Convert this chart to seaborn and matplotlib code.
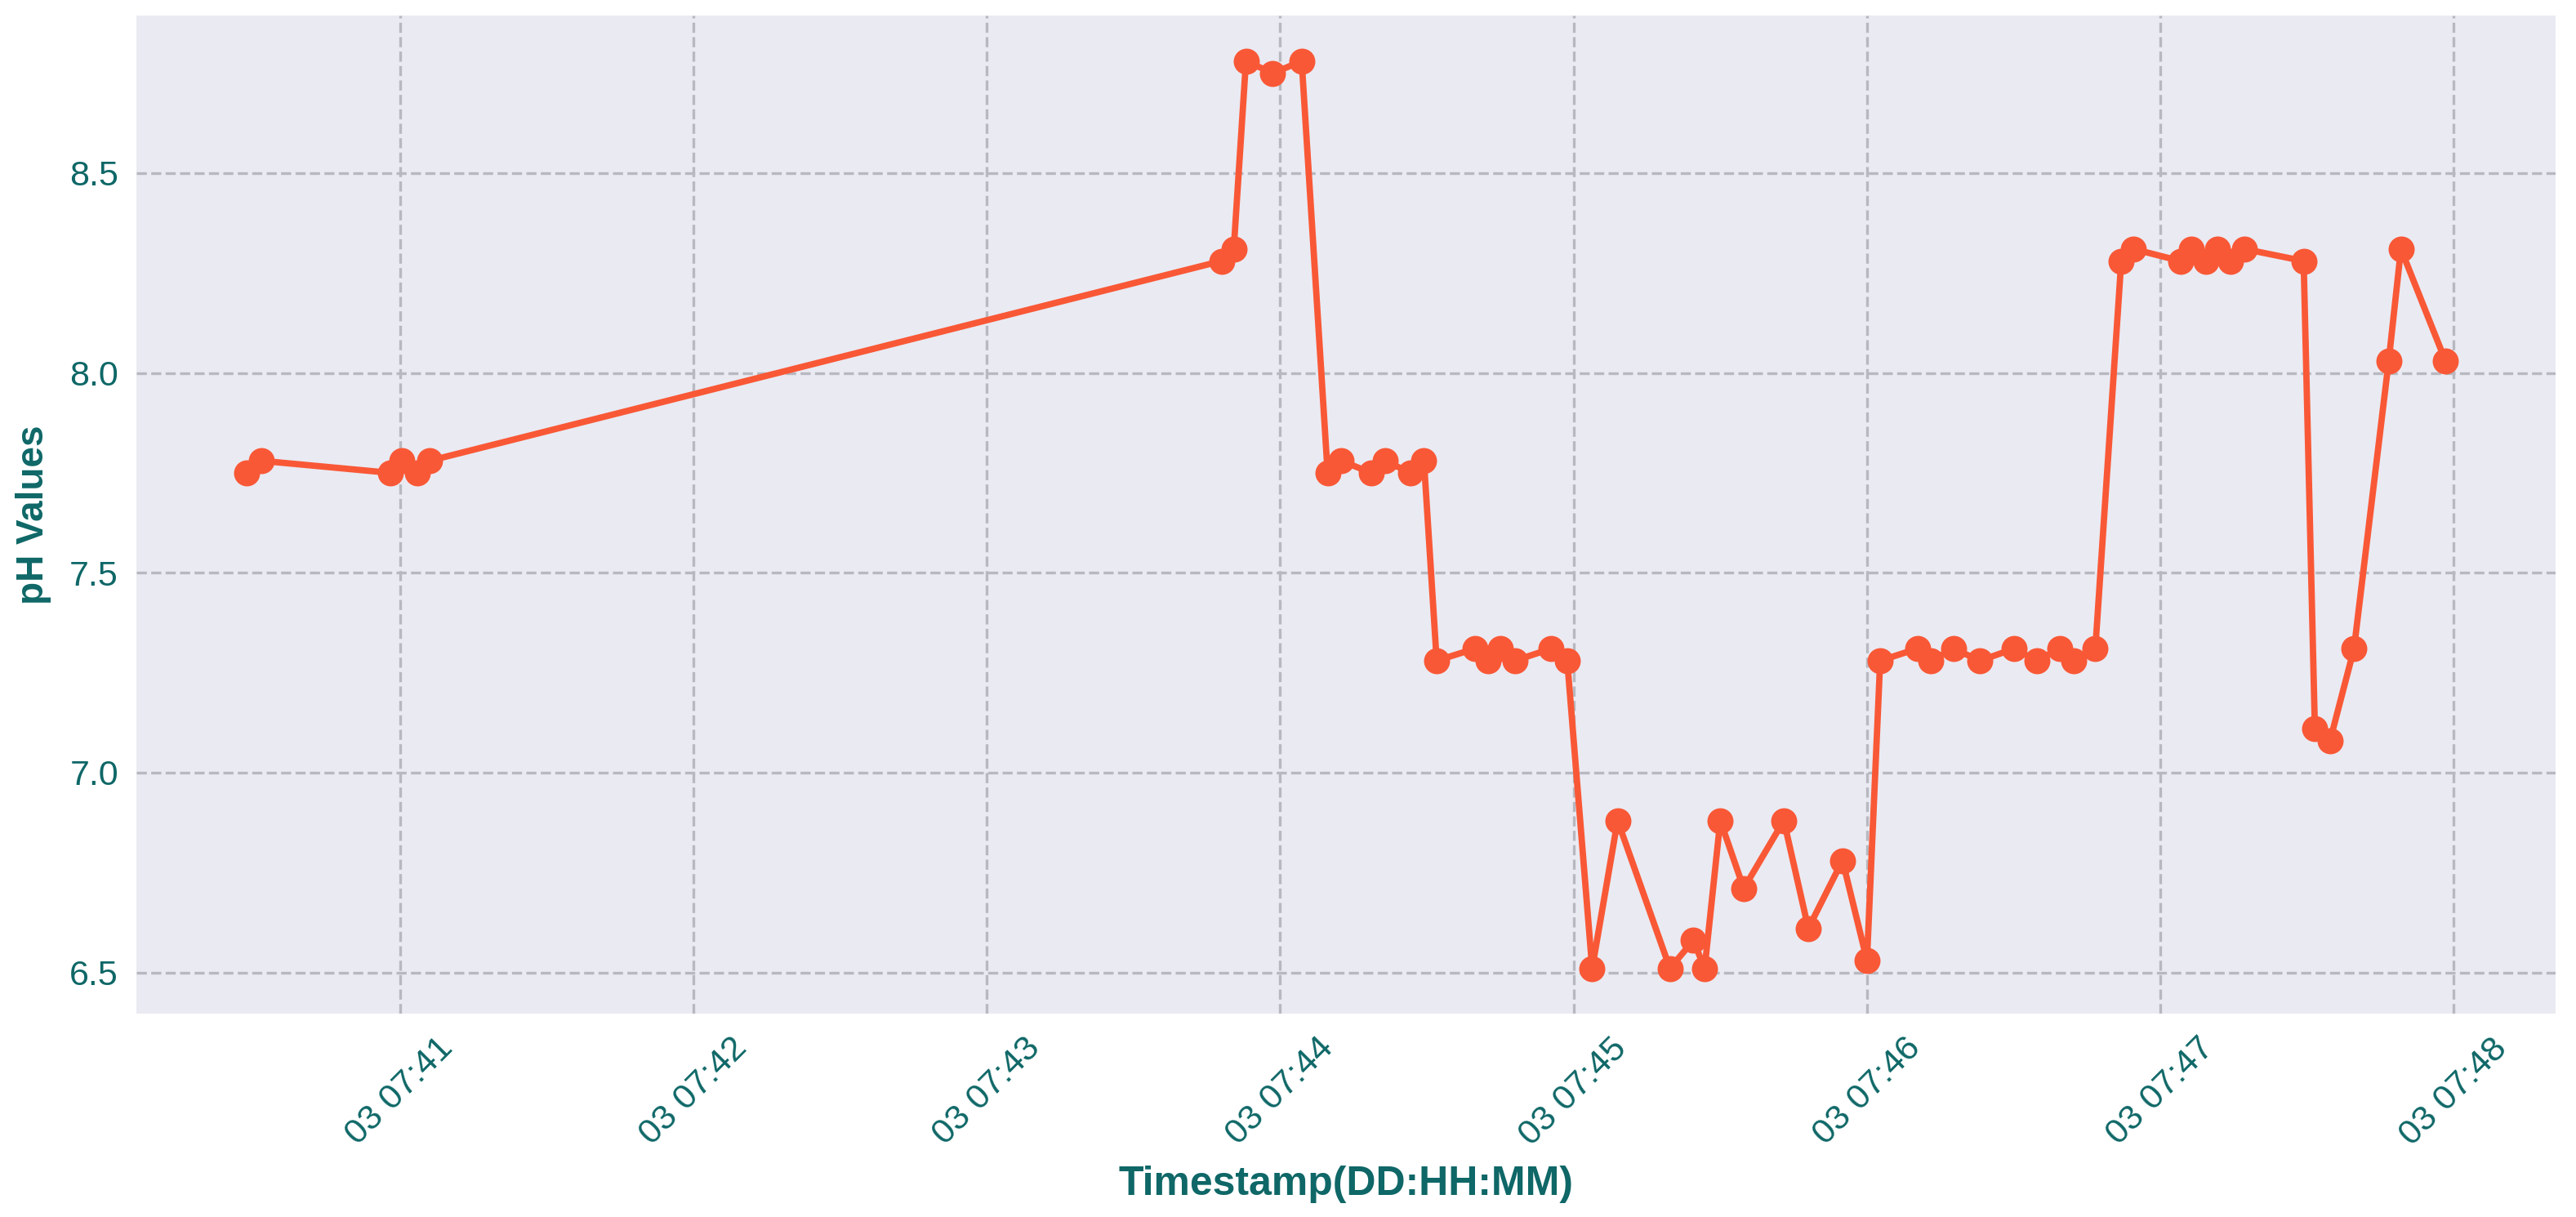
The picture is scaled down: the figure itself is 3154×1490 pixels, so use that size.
import matplotlib
matplotlib.use("Agg")
import matplotlib.pyplot as plt
import matplotlib.dates as mdates
import seaborn as sns
import pandas as pd

# ---- data ----
timestamps = [
    "07:40:28.6", "07:40:31.7", "07:40:58.0", "07:41:00.3", "07:41:03.5", "07:41:06.0",
    "07:43:48.0", "07:43:50.5", "07:43:53.0", "07:43:58.5", "07:44:04.4",
    "07:44:09.7", "07:44:12.5", "07:44:18.6", "07:44:21.4", "07:44:26.7", "07:44:29.4",
    "07:44:32.0", "07:44:39.8", "07:44:42.6", "07:44:45.0", "07:44:48.0", "07:44:55.4", "07:44:58.7",
    "07:45:03.8", "07:45:09.0", "07:45:19.7", "07:45:24.5", "07:45:26.8", "07:45:30.0",
    "07:45:34.8", "07:45:43.0", "07:45:48.0", "07:45:55.0", "07:46:00.0",
    "07:46:02.7", "07:46:10.3", "07:46:13.0", "07:46:17.7", "07:46:23.1", "07:46:30.1",
    "07:46:34.7", "07:46:39.4", "07:46:42.2", "07:46:46.7",
    "07:46:52.0", "07:46:54.5", "07:47:04.1", "07:47:06.3", "07:47:09.4", "07:47:11.6",
    "07:47:14.4", "07:47:17.2", "07:47:29.3", "07:47:31.6", "07:47:34.7", "07:47:39.6",
    "07:47:46.7", "07:47:49.2", "07:47:58.3",
]
ph_values = [
    7.75, 7.78, 7.75, 7.78, 7.75, 7.78,
    8.28, 8.31, 8.78, 8.75, 8.78,
    7.75, 7.78, 7.75, 7.78, 7.75, 7.78,
    7.28, 7.31, 7.28, 7.31, 7.28, 7.31, 7.28,
    6.51, 6.88, 6.51, 6.58, 6.51, 6.88,
    6.71, 6.88, 6.61, 6.78, 6.53,
    7.28, 7.31, 7.28, 7.31, 7.28, 7.31,
    7.28, 7.31, 7.28, 7.31,
    8.28, 8.31, 8.28, 8.31, 8.28, 8.31,
    8.28, 8.31, 8.28, 7.11, 7.08, 7.31,
    8.03, 8.31, 8.03,
]
date_prefix = "2023-07-03 "

df = pd.DataFrame({
    "Timestamp": pd.to_datetime([date_prefix + t for t in timestamps]),
    "pH": ph_values,
})

# ---- style ----
sns.set_theme(style="darkgrid")
plt.rcParams["font.family"] = ["Liberation Sans", "DejaVu Sans"]

text_color = "#0f6767"
line_color = "#F95836"

fig = plt.figure(figsize=(15.77, 7.45), dpi=200)
ax = fig.add_axes([0.053, 0.167, 0.939, 0.820])
ax.set_facecolor("#EAEAF2")

sns.lineplot(data=df, x="Timestamp", y="pH", ax=ax, color=line_color,
             linewidth=2.8, marker="o", markersize=11.5, markeredgewidth=0,
             markeredgecolor=line_color)

ax.grid(True, linestyle="--", color="#b8b8c0", linewidth=1.2)
for s in ax.spines.values():
    s.set_visible(False)

ax.xaxis.set_major_locator(mdates.MinuteLocator())
ax.xaxis.set_major_formatter(mdates.DateFormatter("%d %H:%M"))
ax.set_yticks([6.5, 7.0, 7.5, 8.0, 8.5])

ax.tick_params(axis="both", colors=text_color, labelsize=15.5, length=0, pad=8)
plt.setp(ax.get_xticklabels(), rotation=45, ha="center")

ax.set_xlabel("Timestamp(DD:HH:MM)", fontsize=18, fontweight="bold",
              color=text_color, labelpad=6)
ax.set_ylabel("pH Values", fontsize=16.5, fontweight="bold",
              color=text_color, labelpad=8)

fig.savefig("out.png", dpi=200, facecolor="white")
